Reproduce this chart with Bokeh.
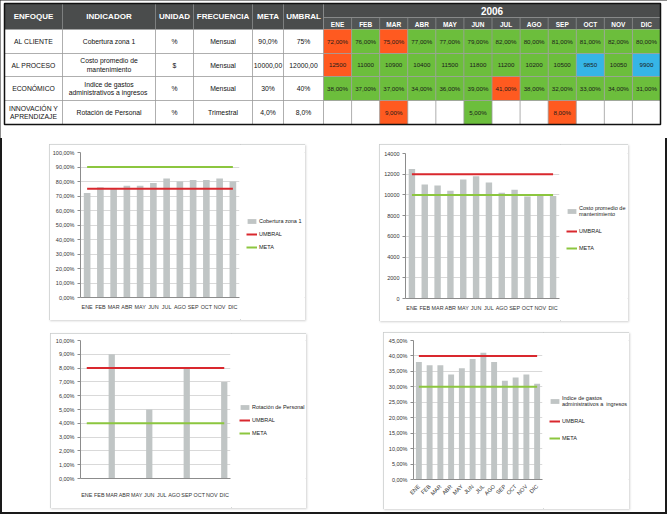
import math
from bokeh.plotting import figure
from bokeh.layouts import column, row
from bokeh.models import (Range1d, FactorRange, Legend, LegendItem, CustomJSTickFormatter,
                          FixedTicker, Spacer)
from bokeh.core.properties import value
from bokeh.embed import file_html
from bokeh.resources import INLINE

# ---------------- data ----------------
anio = "2006"
meses = ["ENE", "FEB", "MAR", "ABR", "MAY", "JUN", "JUL", "AGO", "SEP", "OCT", "NOV", "DIC"]
encabezados = ["ENFOQUE", "INDICADOR", "UNIDAD", "FRECUENCIA", "META", "UMBRAL"]
enfoques = ["AL CLIENTE", "AL PROCESO", "ECONÓMICO", "INNOVACIÓN Y\nAPRENDIZAJE"]
indicadores = ["Cobertura zona 1", "Costo promedio de\nmantenimiento",
               "Indice de gastos\nadministrativos a  ingresos", "Rotación de Personal"]
unidades = ["%", "$", "%", "%"]
frecuencias = ["Mensual", "Mensual", "Mensual", "Trimestral"]
meta_txt = ["90,0%", "10000,00", "30%", "4,0%"]
umbral_txt = ["75%", "12000,00", "40%", "8,0%"]
metas = [90, 10000, 30, 4]
umbrales = [75, 12000, 40, 8]

cobertura = [72, 76, 75, 77, 77, 79, 82, 80, 81, 81, 82, 80]
costo = [12500, 11000, 10900, 10400, 11500, 11800, 11200, 10200, 10500, 9850, 10050, 9900]
gastos = [38, 37, 37, 34, 36, 39, 41, 38, 32, 33, 34, 31]
rotacion_tabla = [None, None, 9, None, None, 5, None, None, 8, None, None, None]
rotacion = [None, None, 9, None, None, 5, None, None, 8, None, None, 7]

# ---------------- styles ----------------
FONT = "Liberation Sans"
HDR = "#4a4c4c"
HDR2 = "#525555"
C_MALO = "#ff5a20"
C_BUENO = "#6cbe3c"
C_EXC = "#36b5e6"
BAR = "#c0c5c5"
RED = "#d9282e"
GREEN = "#8cc63f"
GRID = "#d9d9d9"
AX = "#8c8c8c"
NAN = float("nan")


def fmt_pct(v):
    return f"{v:.2f}".replace(".", ",") + "%"


def estado(v, meta, umbral):
    if meta > umbral:
        if v <= umbral:
            return C_MALO
        if v >= meta:
            return C_EXC
        return C_BUENO
    if v >= umbral:
        return C_MALO
    if v <= meta:
        return C_EXC
    return C_BUENO


# ---------------- table ----------------
W, HT = 667, 138
col_edges = [4, 62, 155, 193, 252, 283, 323]
MX0, MX1 = 323, 660
mw = (MX1 - MX0) / 12
month_edges = [MX0 + i * mw for i in range(13)]
Y0, YY, YH = 3, 17, 29
row_edges = [29, 53, 76, 100, 124]

t = figure(width=W, height=HT, x_range=Range1d(0, W), y_range=Range1d(HT, 0),
           toolbar_location=None, output_backend="svg", min_border=0,
           x_axis_location=None, y_axis_location=None, outline_line_color=None)
t.grid.visible = False

t.quad(left=[col_edges[0], MX0], right=[MX0, MX1], top=[Y0, Y0], bottom=[YH, YY],
       fill_color=HDR, line_color=None)
t.quad(left=[MX0], right=[MX1], top=[YY], bottom=[YH], fill_color=HDR2, line_color=None)

series = [cobertura, costo, gastos, rotacion_tabla]
kinds = ["pct", "int", "pct", "pct"]
cl, cr, ct, cb, cc, tx, ty, tt = [], [], [], [], [], [], [], []
for r, s in enumerate(series):
    for i, v in enumerate(s):
        if v is None:
            continue
        cl.append(month_edges[i]); cr.append(month_edges[i + 1])
        ct.append(row_edges[r]); cb.append(row_edges[r + 1])
        cc.append(estado(v, metas[r], umbrales[r]))
        tx.append((month_edges[i] + month_edges[i + 1]) / 2)
        ty.append((row_edges[r] + row_edges[r + 1]) / 2)
        tt.append(fmt_pct(v) if kinds[r] == "pct" else str(v))
t.quad(left=cl, right=cr, top=ct, bottom=cb, fill_color=cc, line_color=None)

sx0, sy0, sx1, sy1 = [], [], [], []
for x in col_edges[1:] + month_edges[1:-1]:
    sx0.append(x); sx1.append(x); sy0.append(row_edges[0]); sy1.append(row_edges[-1])
for y in row_edges[1:-1]:
    sx0.append(col_edges[0]); sx1.append(MX1); sy0.append(y); sy1.append(y)
t.segment(x0=sx0, y0=sy0, x1=sx1, y1=sy1, line_color="#9a9a9a", line_width=0.8)

hx0, hy0, hx1, hy1 = [], [], [], []
for x in col_edges[1:-1]:
    hx0.append(x); hx1.append(x); hy0.append(Y0); hy1.append(YH)
hx0.append(MX0); hx1.append(MX0); hy0.append(Y0); hy1.append(YH)
for x in month_edges[1:-1]:
    hx0.append(x); hx1.append(x); hy0.append(YY); hy1.append(YH)
hx0.append(MX0); hx1.append(MX1); hy0.append(YY); hy1.append(YY)
t.segment(x0=hx0, y0=hy0, x1=hx1, y1=hy1, line_color="#8a8d8d", line_width=0.8)

t.quad(left=[col_edges[0]], right=[MX1], top=[Y0], bottom=[row_edges[-1]],
       fill_color=None, line_color="#111111", line_width=1.5)

t.text(x=[(col_edges[i] + col_edges[i + 1]) / 2 for i in range(6)], y=[16] * 6, text=encabezados,
       text_font=value(FONT), text_font_style="bold", text_font_size="8px", text_color="white",
       text_align="center", text_baseline="middle")
t.text(x=[(MX0 + MX1) / 2], y=[10.5], text=[anio], text_font=value(FONT), text_font_style="bold",
       text_font_size="10px", text_color="white", text_align="center", text_baseline="middle")
t.text(x=[(month_edges[i] + month_edges[i + 1]) / 2 for i in range(12)], y=[23.5] * 12, text=meses,
       text_font=value(FONT), text_font_style="bold", text_font_size="6.5px", text_color="white",
       text_align="center", text_baseline="middle")

bx, by, bt = [], [], []
for c, arr in enumerate([enfoques, indicadores, unidades, frecuencias, meta_txt, umbral_txt]):
    for r, s in enumerate(arr):
        bx.append((col_edges[c] + col_edges[c + 1]) / 2)
        by.append((row_edges[r] + row_edges[r + 1]) / 2)
        bt.append(s)
t.text(x=bx, y=by, text=bt, text_font=value(FONT), text_font_size="6.8px", text_color="#111111",
       text_align="center", text_baseline="middle", text_line_height=1.15)
t.text(x=tx, y=ty, text=tt, text_font=value(FONT), text_font_size="6.2px", text_color="#1a1a1a",
       text_align="center", text_baseline="middle")


# ---------------- charts ----------------
PCT_CODE = "return tick.toFixed(2).replace('.', ',') + '%';"
NUM_CODE = "return tick.toFixed(0);"


def grafico(valores, meta, umbral, nombre, ymax, paso, code, w, h, ml, fw, mt, mb,
            leg_x, leg_bottom, leg_spacing, rot=0.0, bar_w=0.5, xfs="5.4px", standoff=6):
    cw = ml + fw + 1
    p = figure(x_range=FactorRange(*meses), y_range=Range1d(0, ymax), width=cw, height=h,
               min_border_left=ml, min_border_right=1, min_border_top=mt, min_border_bottom=mb,
               toolbar_location=None, output_backend="svg", outline_line_color=None,
               background_fill_color="white", border_fill_color="white")
    xs = [m for m, v in zip(meses, valores) if v is not None]
    ys = [v for v in valores if v is not None]
    p.vbar(x=xs, top=ys, width=bar_w, fill_color=BAR, line_color=None)
    p.line(x=meses, y=[umbral] * len(meses), line_color=RED, line_width=2)
    p.line(x=meses, y=[meta] * len(meses), line_color=GREEN, line_width=2)

    ticks = list(range(0, ymax + 1, paso))
    p.yaxis.ticker = FixedTicker(ticks=ticks)
    p.ygrid.ticker = FixedTicker(ticks=ticks)
    p.yaxis.formatter = CustomJSTickFormatter(code=code)
    p.xgrid.grid_line_color = None
    p.ygrid.grid_line_color = GRID
    for ax in (p.xaxis, p.yaxis):
        ax.axis_line_color = AX
        ax.major_tick_line_color = AX
        ax.minor_tick_line_color = None
        ax.major_label_text_font = FONT
        ax.major_label_text_font_size = "5.5px"
        ax.major_label_text_color = "#333333"
    p.xaxis.major_label_text_font_size = xfs
    p.yaxis.major_tick_out = 3
    p.yaxis.major_tick_in = 0
    p.xaxis.major_tick_out = 0
    p.xaxis.major_tick_in = 0
    p.yaxis.major_label_standoff = 3
    p.xaxis.major_label_standoff = standoff
    if rot:
        p.xaxis.major_label_orientation = rot

    # legend panel: proxy renderers with the same styles (no visible data)
    lw = w - cw
    lf = figure(width=lw, height=h, x_range=Range1d(0, 1), y_range=Range1d(0, 1),
                toolbar_location=None, output_backend="svg", min_border=0,
                x_axis_location=None, y_axis_location=None, outline_line_color=None,
                background_fill_color="white", border_fill_color="white")
    lf.grid.visible = False
    rb = lf.vbar(x=[NAN], top=[NAN], width=bar_w, fill_color=BAR, line_color=None)
    ru = lf.line(x=[NAN], y=[NAN], line_color=RED, line_width=2)
    rm = lf.line(x=[NAN], y=[NAN], line_color=GREEN, line_width=2)
    leg = Legend(items=[LegendItem(label=nombre, renderers=[rb]),
                        LegendItem(label="UMBRAL", renderers=[ru]),
                        LegendItem(label="META", renderers=[rm])],
                 location=(leg_x, leg_bottom), border_line_color=None, background_fill_alpha=0,
                 padding=0, margin=0, spacing=leg_spacing, glyph_width=11, glyph_height=6,
                 label_height=7, label_standoff=2, label_text_font=FONT,
                 label_text_font_size="5.5px", label_text_color="#222222",
                 label_text_line_height=1.35)
    lf.add_layout(leg)
    return row(p, lf, styles={"outline": "1px solid #c9cbcb", "outline-offset": "-1px",
                              "box-shadow": "1px 1px 2px rgba(0,0,0,0.18)"})


c1 = grafico(cobertura, metas[0], umbrales[0], indicadores[0], 100, 10, PCT_CODE,
             256, 176, 31, 159, 8, 23, 6, 47, 6)
c2 = grafico(costo, metas[1], umbrales[1], indicadores[1], 14000, 2000, NUM_CODE,
             249, 177, 26, 154, 9, 23, 6, 47, 10)
c3 = grafico(rotacion, metas[3], umbrales[3], indicadores[3], 10, 1, PCT_CODE,
             256, 175, 30, 150, 7, 30, 8, 42, 6, standoff=13)
c4 = grafico(gastos, metas[2], umbrales[2], indicadores[2], 46 - 1, 5, PCT_CODE,
             246, 177, 30, 129, 8, 30, 6, 38, 10, rot=math.pi / 4, bar_w=0.55, xfs="5.6px")

layout = column(
    t,
    Spacer(width=W, height=6),
    row(Spacer(width=49, height=177), c1, Spacer(width=74, height=177), c2),
    Spacer(width=W, height=11),
    row(Spacer(width=50, height=177), column(Spacer(width=256, height=1), c3),
        Spacer(width=77, height=177), c4),
    Spacer(width=W, height=5),
)
layout.styles = {"outline": "2px solid #1a1a1a", "outline-offset": "-2px", "background": "white"}

open("out.html", "w").write(file_html(layout, INLINE))
